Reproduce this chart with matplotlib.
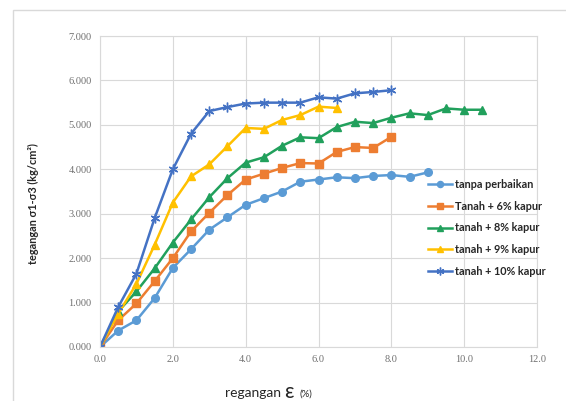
import matplotlib
matplotlib.use('Agg')
import matplotlib.pyplot as plt
from matplotlib.patches import Rectangle

plt.rcParams['font.family'] = ['Lato', 'DejaVu Sans']

# strain (%) and deviator stress (kg/cm2) per series
x_tanpa = [0, 0.5, 1.0, 1.5, 2.0, 2.5, 3.0, 3.5, 4.0, 4.5, 5.0, 5.5, 6.0, 6.5, 7.0, 7.5, 8.0, 8.5, 9.0]
y_tanpa = [0, 0.37, 0.60, 1.10, 1.78, 2.20, 2.64, 2.92, 3.20, 3.35, 3.50, 3.72, 3.77, 3.82, 3.80, 3.85, 3.87, 3.83, 3.93]

x_6 = [0, 0.5, 1.0, 1.5, 2.0, 2.5, 3.0, 3.5, 4.0, 4.5, 5.0, 5.5, 6.0, 6.5, 7.0, 7.5, 8.0]
y_6 = [0, 0.60, 0.98, 1.48, 2.00, 2.60, 3.02, 3.42, 3.77, 3.90, 4.03, 4.14, 4.13, 4.39, 4.50, 4.48, 4.73]

x_8 = [0, 0.5, 1.0, 1.5, 2.0, 2.5, 3.0, 3.5, 4.0, 4.5, 5.0, 5.5, 6.0, 6.5, 7.0, 7.5, 8.0, 8.5, 9.0, 9.5, 10.0, 10.5]
y_8 = [0, 0.80, 1.25, 1.77, 2.35, 2.87, 3.37, 3.80, 4.15, 4.27, 4.53, 4.72, 4.70, 4.95, 5.07, 5.04, 5.16, 5.26, 5.22, 5.37, 5.34, 5.34]

x_9 = [0, 0.5, 1.0, 1.5, 2.0, 2.5, 3.0, 3.5, 4.0, 4.5, 5.0, 5.5, 6.0, 6.5]
y_9 = [0, 0.75, 1.42, 2.30, 3.25, 3.84, 4.11, 4.52, 4.93, 4.91, 5.11, 5.22, 5.41, 5.38]

x_10 = [0, 0.5, 1.0, 1.5, 2.0, 2.5, 3.0, 3.5, 4.0, 4.5, 5.0, 5.5, 6.0, 6.5, 7.0, 7.5, 8.0]
y_10 = [0, 0.90, 1.65, 2.90, 4.00, 4.80, 5.31, 5.40, 5.48, 5.50, 5.50, 5.50, 5.62, 5.59, 5.71, 5.74, 5.78]

labels = ['tanpa perbaikan', 'Tanah + 6% kapur', 'tanah + 8% kapur',
          'tanah + 9% kapur', 'tanah + 10% kapur']

x_ticks = [0, 2, 4, 6, 8, 10, 12]
y_ticks = [0, 1, 2, 3, 4, 5, 6, 7]

fig = plt.figure(figsize=(5.66, 4.01), dpi=100)
fig.patch.set_facecolor('white')
# light chart-area border, as in the spreadsheet export
fig.patches.append(Rectangle((13 / 566, -0.01), 1.0, (401 - 10) / 401 + 0.01,
                             transform=fig.transFigure, fill=False,
                             edgecolor='#D9D9D9', linewidth=1.0))

ax = fig.add_axes([100 / 566, 1 - 347 / 401, 437 / 566, 311 / 401])

ax.plot(x_tanpa, y_tanpa, color='#5B9BD5', marker='o', markersize=5.5, lw=1.8, label=labels[0])
ax.plot(x_6, y_6, color='#ED7D31', marker='s', markersize=6, lw=1.8, label=labels[1])
ax.plot(x_8, y_8, color='#21A05C', marker='^', markersize=5.5, lw=1.8, label=labels[2])
ax.plot(x_9, y_9, color='#FFC000', marker='^', markersize=6, lw=1.8, label=labels[3])
ax.plot(x_10, y_10, color='#4472C4', marker=(6, 2, 0), markersize=7, lw=1.8,
        markeredgewidth=1.0, label=labels[4])

ax.set_xlim(0, 12)
ax.set_ylim(0, 7)
ax.set_xticks(x_ticks)
ax.set_yticks(y_ticks)
ax.set_xticklabels([f'{v:.1f}' for v in x_ticks], family='Liberation Serif')
ax.set_yticklabels([f'{v:.3f}' for v in y_ticks], family='Liberation Serif')
ax.tick_params(length=0, labelsize=7.5, colors='#707070', pad=6)
ax.grid(True, color='#D9D9D9', lw=0.8)
ax.set_axisbelow(True)
for s in ax.spines.values():
    s.set_color('#D9D9D9')
    s.set_linewidth(0.8)

leg = ax.legend(loc='upper left', bbox_to_anchor=(0.741, 0.555), frameon=False,
                fontsize=7.8, handlelength=2.2, labelspacing=1.0,
                handletextpad=0.3, borderaxespad=0, markerscale=0.8)
for t in leg.get_texts():
    t.set_fontweight('bold')
    t.set_color('#262626')

ax.set_ylabel('tegangan σ1-σ3 (kg/cm²)', fontsize=7.8, fontweight='bold',
              color='#262626')
ax.yaxis.set_label_coords(-0.14, 0.46)

fig.text(225 / 566, 1 - 393 / 401, 'regangan', fontsize=10, color='#262626', va='center')
fig.text(284 / 566, 1 - 392 / 401, 'ε', fontsize=15, color='#262626', va='center')
fig.text(299 / 566, 1 - 394 / 401, '(%)', fontsize=7, color='#262626', va='center')

fig.savefig('out.png', dpi=100)
